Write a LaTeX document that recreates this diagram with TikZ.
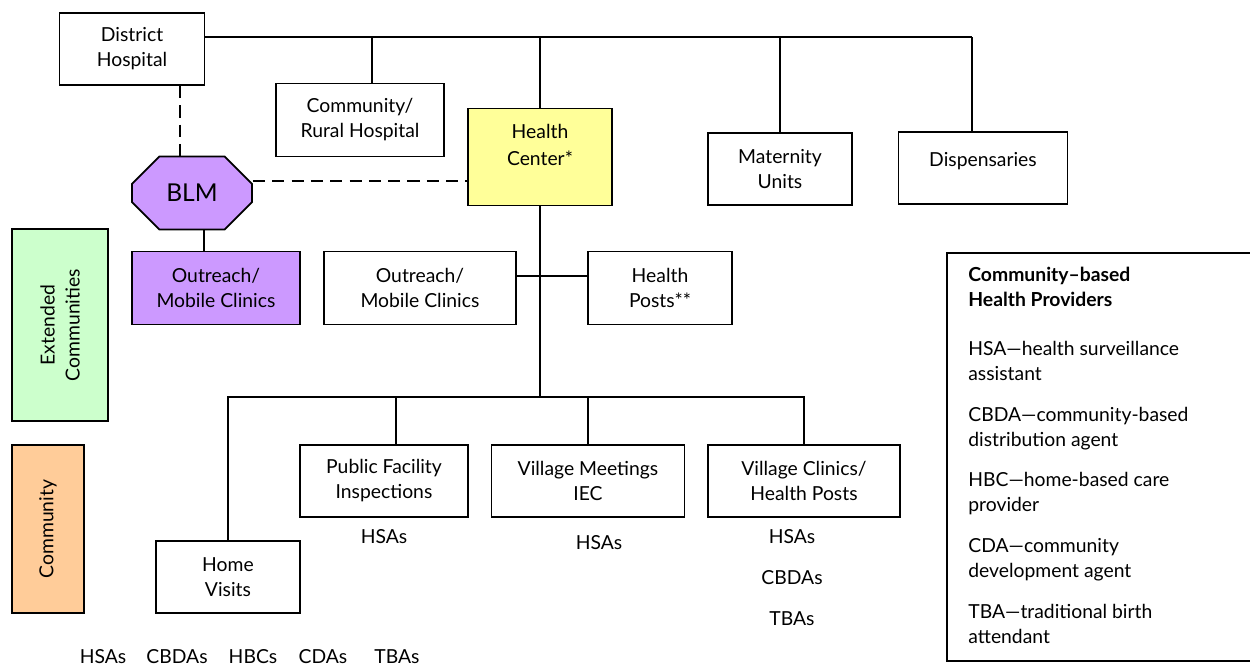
\documentclass[tikz,border=0pt]{standalone}
\usepackage{fontspec}
\setmainfont{Lato}
\usetikzlibrary{shapes.misc,calc}
\definecolor{hcyellow}{HTML}{FFFF99}
\definecolor{blmpurple}{HTML}{CC99FF}
\definecolor{extgreen}{HTML}{CCFFCC}
\definecolor{comorange}{HTML}{FFCC99}
\tikzset{
  unit/.style={shape=rectangle,draw=black,line width=1pt,align=center,inner sep=2pt,
    font=\fontsize{11}{14.2}\selectfont},
  link/.style={line width=1pt},
  dashlink/.style={line width=1pt,dash pattern=on 7pt off 4pt},
  staff/.style={inner sep=0pt,font=\fontsize{11}{14.2}\selectfont},
}
\begin{document}
\begin{tikzpicture}[x=0.02cm,y=-0.02cm]
    \useasboundingbox (0,0) rectangle (1250,667);
    \node[unit,minimum width=2.9cm,minimum height=1.44cm] (dh) at (132,49) {District\\Hospital};
    \node[unit,minimum width=3.36cm,minimum height=1.46cm] (crh) at (360,120) {Community/\\Rural Hospital};
    \node[unit,minimum width=2.88cm,minimum height=1.94cm,fill=hcyellow] (hc) at (540,157) {Health\\[1pt]Center*\\~};
    \node[unit,minimum width=2.88cm,minimum height=1.44cm] (mat) at (780,169) {Maternity\\Units};
    \node[unit,minimum width=3.38cm,minimum height=1.44cm] (disp) at (983,168) {Dispensaries\\[-4pt]~};
    \node[unit,shape=chamfered rectangle,chamfered rectangle xsep=0.3cm,chamfered rectangle ysep=0.3cm,
      minimum width=2.4cm,minimum height=1.46cm,fill=blmpurple,font=\fontsize{14}{16}\selectfont] (blm) at (192,193) {BLM};
    \node[unit,minimum width=3.36cm,minimum height=1.46cm,fill=blmpurple] (outp) at (216,288) {Outreach/\\Mobile Clinics};
    \node[unit,minimum width=3.84cm,minimum height=1.46cm] (outw) at (420,288) {Outreach/\\Mobile Clinics};
    \node[unit,minimum width=2.88cm,minimum height=1.46cm] (hp) at (660,288) {Health\\Posts**};
    \node[unit,rotate=90,minimum width=3.84cm,minimum height=1.92cm,fill=extgreen] (ext) at (60,325) {Extended\\Communities};
    \node[unit,rotate=90,minimum width=3.36cm,minimum height=1.44cm,fill=comorange] (com) at (48,529) {Community};
    \node[unit,minimum width=3.36cm,minimum height=1.44cm] (pub) at (384,481) {Public Facility\\Inspections};
    \node[unit,minimum width=3.86cm,minimum height=1.44cm] (vm) at (588,481) {Village Meetings\\IEC};
    \node[unit,minimum width=3.84cm,minimum height=1.44cm] (vc) at (804,481) {Village Clinics/\\Health Posts};
    \node[unit,minimum width=2.88cm,minimum height=1.44cm] (home) at (228,577) {Home\\Visits};

    \coordinate (bustop) at (972,37);
    \coordinate (buslow) at (804,397);
    \coordinate (crhtop) at ($(crh.north)+(12,0)$);
    \coordinate (dhfoot) at ($(dh.south)+(48,0)$);
    \coordinate (blmside) at ($(blm.east)+(0,-12)$);
    \coordinate (outptop) at ($(outp.north)+(-12,0)$);
    \coordinate (outwside) at ($(outw.east)+(0,-12)$);
    \coordinate (pubtop) at ($(pub.north)+(12,0)$);

    \path[link] (dh.east |- bustop) edge (bustop);
    \path[link] (bustop) edge (disp.north -| bustop);
    \path[link] (crhtop) edge (crhtop |- bustop);
    \path[link] (hc.north) edge (hc.north |- bustop);
    \path[link] (mat.north) edge (mat.north |- bustop);
    \path[dashlink] (dhfoot) edge (dhfoot |- blm.north);
    \path[dashlink] (blmside) edge (hc.west |- blmside);
    \path[link] (outptop) edge (outptop |- blm.south);
    \path[link] (outwside) edge (hp.west |- outwside);
    \path[link] (hc.south) edge (hc.south |- buslow);
    \draw[link] (home.north) |- (buslow) -- (vc.north);
    \path[link] (pubtop) edge (pubtop |- buslow);
    \path[link] (vm.north) edge (vm.north |- buslow);

    \node[staff] (pubhsa) at (384,537) {HSAs};
    \node[staff] (vmhsa) at (599,543) {HSAs};
    \node[staff] (vchsa) at (792,537) {HSAs};
    \node[staff] (vccbda) at (792,578) {CBDAs};
    \node[staff] (vctba) at (792,619) {TBAs};
    \node[staff] (homehsa) at (103,657) {HSAs};
    \node[staff] (homecbda) at (177,657) {CBDAs};
    \node[staff] (homehbc) at (253,657) {HBCs};
    \node[staff] (homecda) at (323,657) {CDAs};
    \node[staff] (hometba) at (397,657) {TBAs};

    \node[unit,minimum width=6.3cm,minimum height=8.16cm] (legend) at (1104.5,457) {};
    \node[staff,anchor=north west,align=left] (legendtext) at (968,267) {\textbf{Community–based}\\\textbf{Health Providers}\\[13.6pt]
      HSA—health surveillance\\assistant\\[9pt]
      CBDA—community-based\\distribution agent\\[9pt]
      HBC—home-based care\\provider\\[9pt]
      CDA—community\\development agent\\[9pt]
      TBA—traditional birth\\attendant};
\end{tikzpicture}
\end{document}
